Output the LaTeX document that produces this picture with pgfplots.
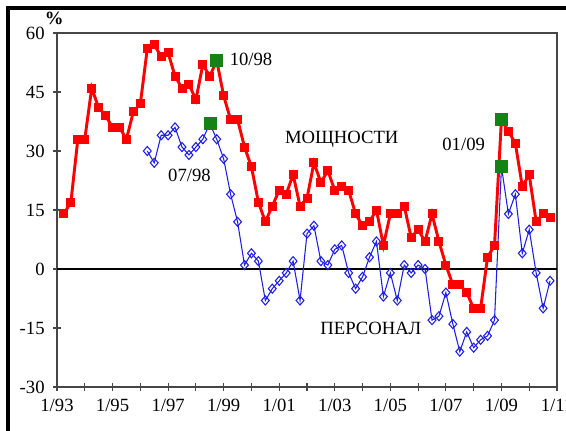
\documentclass[border=0pt]{standalone}
\usepackage{pgfplots}
\pgfplotsset{compat=1.18}
\usepackage{fontspec}
\setmainfont{Liberation Serif}

\definecolor{capred}{RGB}{255,0,0}
\definecolor{staffblue}{RGB}{30,30,230}
\definecolor{markgreen}{RGB}{20,130,20}
\definecolor{axisgray}{RGB}{70,70,70}

\begin{document}
\begin{tikzpicture}[lbl/.style={font=\fontsize{14}{16}\selectfont}]
  % page = 566x430 px, 1px = 0.75pt
  \useasboundingbox (0,0) rectangle (424.5pt,-322.5pt);
  \draw[line width=2.4pt] (6pt,-330pt) -- (6pt,-6pt) -- (430pt,-6pt);

  \begin{axis}[
    at={(42.75pt,-24.75pt)}, anchor=north west,
    width=375pt, height=265.5pt, scale only axis,
    xmin=1993, xmax=2011, ymin=-30, ymax=60,
    clip=false,
    axis line style={axisgray, line width=1pt},
    xtick={1993,1995,...,2011},
    xticklabels={1/93,1/95,1/97,1/99,1/01,1/03,1/05,1/07,1/09,1/11},
    minor xtick={1994,1996,...,2010},
    ytick={-30,-15,0,15,30,45,60},
    yticklabels={-30,-15,0,15,30,45,60},
    xtick pos=bottom, ytick pos=left,
    tick align=center,
    major tick length=5.5pt, minor tick length=5.5pt,
    every tick/.style={axisgray, line width=0.9pt},
    tick label style={font=\fontsize{14}{16}\selectfont},
    xticklabel style={yshift=-2.5pt},
    yticklabel style={xshift=-3pt},
  ]
    % zero line
    \addplot[black, line width=0.9pt] coordinates {(1993,0) (2011,0)};

    % ПЕРСОНАЛ
    \addplot[staffblue, line width=0.8pt, mark=diamond, mark size=3.4pt,
      mark options={fill=white, line width=0.8pt, xscale=1.15}] coordinates {
      (1996.25,30) (1996.5,27) (1996.75,34) (1997,34) (1997.25,36) (1997.5,31)
      (1997.75,29) (1998,31) (1998.25,33) (1998.5,37) (1998.75,33) (1999,28)
      (1999.25,19) (1999.5,12) (1999.75,1) (2000,4) (2000.25,2) (2000.5,-8)
      (2000.75,-5) (2001,-3) (2001.25,-1) (2001.5,2) (2001.75,-8) (2002,9)
      (2002.25,11) (2002.5,2) (2002.75,1) (2003,5) (2003.25,6) (2003.5,-1)
      (2003.75,-5) (2004,-2) (2004.25,3) (2004.5,7) (2004.75,-7) (2005,-1)
      (2005.25,-8) (2005.5,1) (2005.75,-1) (2006,1) (2006.25,0) (2006.5,-13)
      (2006.75,-12) (2007,-6) (2007.25,-14) (2007.5,-21) (2007.75,-16) (2008,-20)
      (2008.25,-18) (2008.5,-17) (2008.75,-13) (2009,26) (2009.25,14) (2009.5,19)
      (2009.75,4) (2010,10) (2010.25,-1) (2010.5,-10) (2010.75,-3)
    };

    % МОЩНОСТИ
    \addplot[capred, line width=2.2pt, mark=square*, mark size=3pt,
      mark options={line width=0pt}] coordinates {
      (1993.25,14) (1993.5,17) (1993.75,33) (1994,33) (1994.25,46) (1994.5,41)
      (1994.75,39) (1995,36) (1995.25,36) (1995.5,33) (1995.75,40) (1996,42)
      (1996.25,56) (1996.5,57) (1996.75,54) (1997,55) (1997.25,49) (1997.5,46)
      (1997.75,47) (1998,43) (1998.25,52) (1998.5,49) (1998.75,53) (1999,44)
      (1999.25,38) (1999.5,38) (1999.75,31) (2000,26) (2000.25,17) (2000.5,12)
      (2000.75,16) (2001,20) (2001.25,19) (2001.5,24) (2001.75,16) (2002,18)
      (2002.25,27) (2002.5,22) (2002.75,25) (2003,20) (2003.25,21) (2003.5,20)
      (2003.75,14) (2004,11) (2004.25,12) (2004.5,15) (2004.75,6) (2005,14)
      (2005.25,14) (2005.5,16) (2005.75,8) (2006,10) (2006.25,7) (2006.5,14)
      (2006.75,7) (2007,1) (2007.25,-4) (2007.5,-4) (2007.75,-6) (2008,-10)
      (2008.25,-10) (2008.5,3) (2008.75,6) (2009,38) (2009.25,35) (2009.5,32)
      (2009.75,21) (2010,24) (2010.25,12) (2010.5,14) (2010.75,13)
    };

    % highlighted dates
    \addplot[only marks, mark=square*, mark size=4.5pt, color=markgreen]
      coordinates {(1998.5,37) (1998.75,53) (2009,38) (2009,26)};

    \node[lbl, anchor=west] at (axis cs:1999.05,53.4) {10/98};
    \node[lbl] at (axis cs:1997.77,23.7) {07/98};
    \node[lbl] at (axis cs:2003.25,33) {МОЩНОСТИ};
    \node[lbl] at (axis cs:2007.64,31.8) {01/09};
    \node[lbl] at (axis cs:2004.3,-15) {ПЕРСОНАЛ};
    \node[font=\bfseries\fontsize{14}{16}\selectfont] at (axis cs:1992.9,63.8) {\%};
  \end{axis}
\end{tikzpicture}
\end{document}
